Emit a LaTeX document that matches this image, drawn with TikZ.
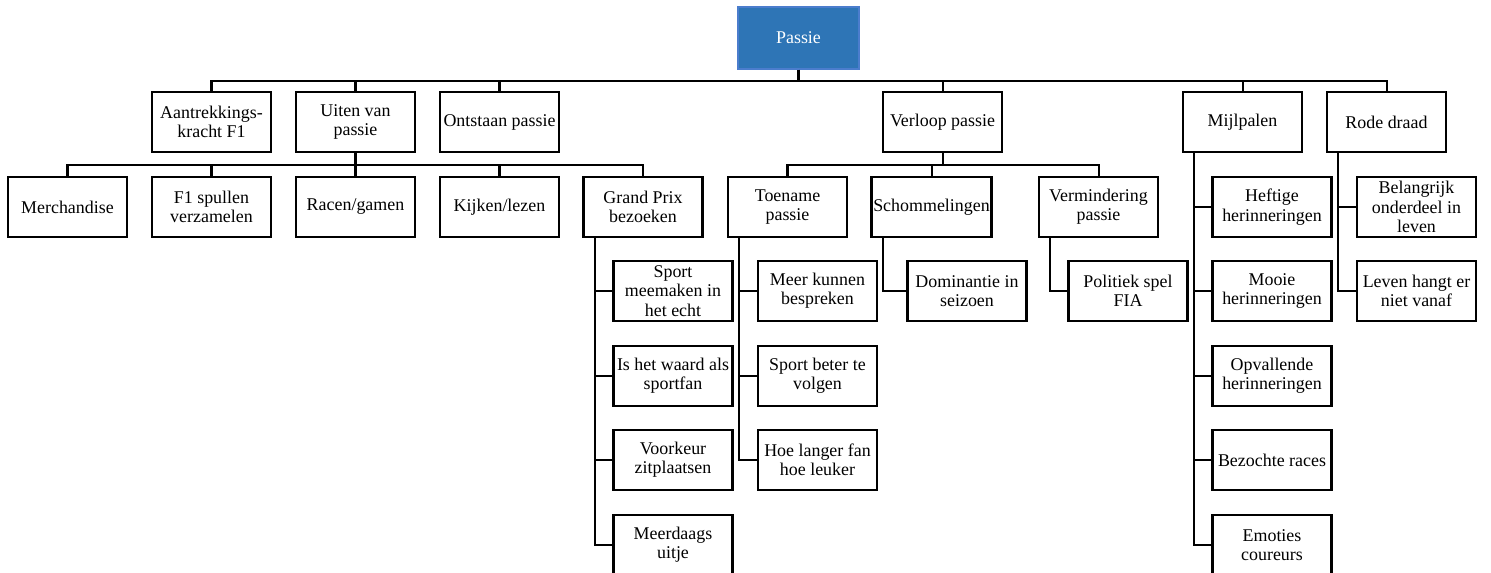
\documentclass[tikz,border=0pt]{standalone}
\usepackage{fontspec}
\setmainfont{Liberation Serif}
\newfontfamily\boxfont{Liberation Serif}
\usetikzlibrary{calc}
\definecolor{passieblue}{RGB}{46,117,182}
\definecolor{passieline}{RGB}{75,125,205}

\begin{document}
\begin{tikzpicture}[x = 0.02cm, y = -0.02cm,
  box/.style = {draw, line width = 1.3pt, minimum width = 2.38cm, minimum height = 1.2cm,
    inner sep = 1pt, align = center, font = \boxfont\fontsize{10.2}{11}\selectfont},
  topbox/.style = {box, fill = passieblue, draw = passieline, line width = 0.6pt, text = white,
    minimum width = 2.42cm, minimum height = 1.24cm},
  link/.style = {line width = 1.15pt}]
\useasboundingbox (0, 0) rectangle (1491, 573);

\node[topbox] (passie) at (798.5, 38) {Passie};

\node[box] (aantrek) at (211.5, 122) {Aantrekkings-\\kracht F1};
\node[box] (uiten) at (355.5, 122) {Uiten van\\passie};
\node[box] (ontstaan) at (499.5, 122) {Ontstaan passie};
\node[box] (verloop) at (942.5, 122) {Verloop passie};
\node[box] (mijl) at (1242.5, 122) {Mijlpalen};
\node[box] (rode) at (1386.5, 122) {Rode draad};

\node[box] (merch) at (67.5, 207) {Merchandise};
\node[box] (spullen) at (211.5, 207) {F1 spullen\\verzamelen};
\node[box] (racen) at (355.5, 207) {Racen/gamen};
\node[box] (kijken) at (499.5, 207) {Kijken/lezen};
\node[box] (gp) at (643, 207) {Grand Prix\\bezoeken};
\node[box] (toename) at (787.5, 207) {Toename\\passie};
\node[box] (schomm) at (931.5, 207) {Schommelingen};
\node[box] (vermind) at (1098.5, 207) {Vermindering\\passie};
\node[box] (heftig) at (1272, 207) {Heftige\\herinneringen};
\node[box] (belangrijk) at (1416.5, 207) {Belangrijk\\onderdeel in\\leven};

\node[box] (echt) at (673, 291) {Sport\\meemaken in\\het echt};
\node[box] (waard) at (673, 376) {Is het waard als\\sportfan};
\node[box] (zitplaats) at (673, 460) {Voorkeur\\zitplaatsen};
\node[box] (uitje) at (673, 545) {Meerdaags\\uitje};

\node[box] (bespreken) at (817.5, 291) {Meer kunnen\\bespreken};
\node[box] (volgen) at (817.5, 376) {Sport beter te\\volgen};
\node[box] (leuker) at (817.5, 460) {Hoe langer fan\\hoe leuker};

\node[box] (dominantie) at (967, 291) {Dominantie in\\seizoen};
\node[box] (fia) at (1128, 291) {Politiek spel\\FIA};

\node[box] (mooi) at (1272, 291) {Mooie\\herinneringen};
\node[box] (opvallend) at (1272, 376) {Opvallende\\herinneringen};
\node[box] (races) at (1272, 460) {Bezochte races};
\node[box] (emoties) at (1272, 545) {Emoties\\coureurs};

\node[box] (vanaf) at (1416.5, 291) {Leven hangt er\\niet vanaf};

\draw[line width = 1.8pt] (passie.south) -- ++(0, 11);
\foreach \n in {aantrek, uiten, ontstaan, verloop, mijl, rode}
  \draw[link] (passie.south) ++(0, 11) -| (\n.north);
\foreach \n in {merch, spullen, racen, kijken, gp}
  \draw[link] (uiten.south) -- ++(0, 12) -| (\n.north);
\foreach \n in {toename, schomm, vermind}
  \draw[link] (verloop.south) -- ++(0, 12) -| (\n.north);

\foreach \p/\n in {gp/echt, gp/waard, gp/zitplaats, gp/uitje,
    toename/bespreken, toename/volgen, toename/leuker,
    schomm/dominantie, vermind/fia,
    mijl/heftig, mijl/mooi, mijl/opvallend, mijl/races, mijl/emoties,
    rode/belangrijk, rode/vanaf}
  \draw[link] ([xshift = 0.25cm]\p.south west) |- (\n.west);
\end{tikzpicture}
\end{document}
